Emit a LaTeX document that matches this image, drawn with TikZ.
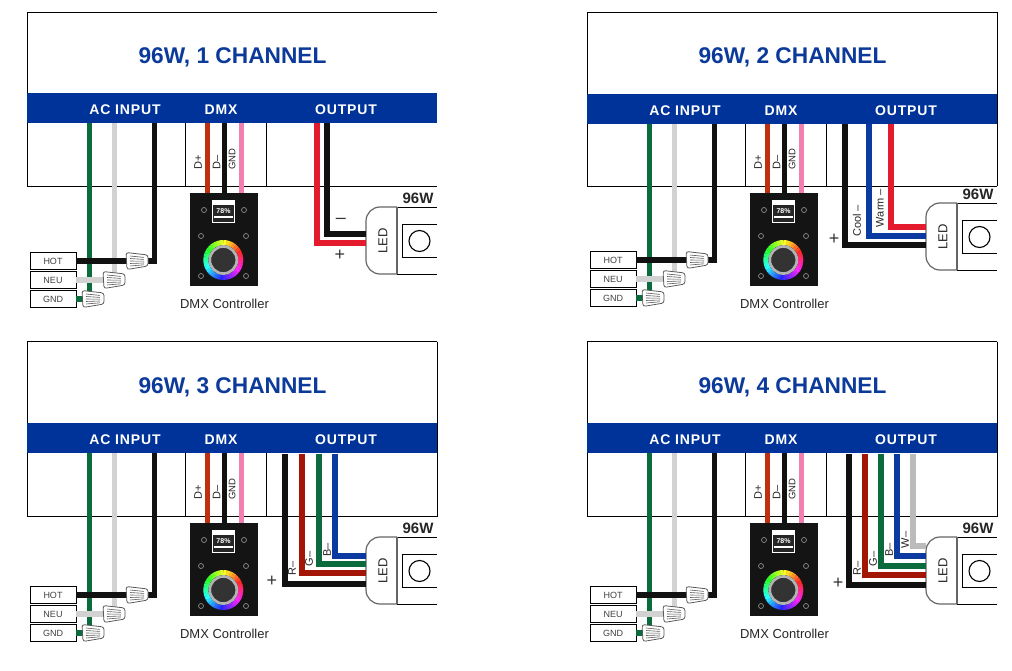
\documentclass[tikz,border=0pt]{standalone}
\usepackage{fontspec}
\setmainfont{Liberation Sans}
\newfontfamily\bandfont{Liberation Sans}[LetterSpace=6.0]
\definecolor{bandblue}{HTML}{003399}
\definecolor{titleblue}{HTML}{0B3A9B}
\definecolor{wireblk}{HTML}{111111}
\definecolor{wirered}{HTML}{E31B2D}
\definecolor{wiredkred}{HTML}{A31505}
\definecolor{wiregrn}{HTML}{0B6B3C}
\definecolor{wireblu}{HTML}{0B3AA0}
\definecolor{wiregry}{HTML}{BBBBBB}
\definecolor{wirelgt}{HTML}{D2D2D2}
\definecolor{wirednr}{HTML}{C0300F}
\definecolor{wirepnk}{HTML}{F080B0}
\tikzset{
    x=1pt, y=-1pt,
    wire/.style={line width=5.2pt},
    boxline/.style={black, line width=1pt},
    band/.style={fill=bandblue, draw=none, minimum width=410pt, minimum height=30pt, inner sep=0pt},
    bandtext/.style={text=white, font=\fontsize{14}{14}\selectfont\bandfont\bfseries},
    title/.style={text=titleblue, font=\fontsize{22.7}{24}\selectfont\bfseries},
    tagbox/.style={draw=black, line width=0.9pt, fill=white, minimum width=46pt, minimum height=16.5pt, inner sep=0pt, text=black!75, font=\fontsize{9}{9}\selectfont},
    wirelabel/.style={rotate=90, inner sep=0pt, text=black!85, font=\fontsize{11}{11}\selectfont},
    signlabel/.style={inner sep=0pt, text=black!80, font=\fontsize{18}{18}\selectfont},
    ctrlbox/.style={fill=black!92, draw=none, minimum width=68pt, minimum height=93pt, inner sep=0pt},
    ledline/.style={draw=black!60, line width=1.2pt, fill=white},
    wirenut/.pic={
        \draw[draw=black!65, line width=0.8pt, fill=white, rounded corners=2.5pt]
            (-11,-8.5) -- (11,-6) -- (11,5) -- (-10,8.5) -- cycle;
        \foreach \yy/\yz in {-5/-3.6,-2.5/-1.6,0/0.2,2.5/2,5/3.8}
            \draw[black!65, line width=0.6pt] (-7,\yy) -- (7,\yz);
    },
}
\newcommand{\panel}[7]{
    \begin{scope}[shift={(#2,#3)}]
        \coordinate (#1nw) at (27.5,{12.5-#3/330});
        \coordinate (#1ne) at (437,{12.5-#3/330});
        \coordinate (#1sw) at (27.5,186.5);
        \coordinate (#1se) at (437,186.5);
        \draw[boxline] (#1ne) -- (#1nw) -- (#1sw) -- (#1se);
        \node[title] (#1title) at (232.5,57) {96W, #4 CHANNEL};
        \draw[boxline] (185.5,123) -- (185.5,186) (266.5,123) -- (266.5,186);
        \node[tagbox] (#1hot) at (53,{261+#5}) {HOT};
        \node[tagbox] (#1neu) at (53,{280+#5}) {NEU};
        \node[tagbox] (#1gnd) at (53,{299+#5}) {GND};
        \coordinate (#1grntop) at (89.5,123);
        \coordinate (#1grnend) at (89.5,{295+#5});
        \coordinate (#1lgttop) at (114.5,123);
        \coordinate (#1lgtend) at (114.5,{280+#5});
        \coordinate (#1blktop) at (154.5,123);
        \draw[wire, wiregrn] (#1grntop) -- (#1grnend);
        \draw[wire, wiregrn] (#1gnd.east) -- (90,{299+#5});
        \draw[wire, wirelgt] (#1lgttop) |- (#1neu.east);
        \draw[wire, wireblk] (#1blktop) |- (#1hot.east);
        \pic at (137,{261+#5}) {wirenut};
        \pic at (114,{280+#5}) {wirenut};
        \pic at (93,{299+#5}) {wirenut};
        \node[ctrlbox] (#1ctrl) at (224,239.5) {};
        \foreach \col/\xx in {wirednr/207.5,wireblk/224.5,wirepnk/241.5} {
            \coordinate (#1\col) at (\xx,123);
            \draw[wire, draw=\col] (#1\col) -- (#1\col |- #1ctrl.north);
        }
        \node[wirelabel] (#1dp) at (198,162) {D+};
        \node[wirelabel] (#1dm) at (216.5,162) {D--};
        \node[wirelabel, font=\fontsize{9.5}{10}\selectfont] (#1dg) at (232,159) {GND};
        \fill[white] (212,200) rectangle (235,223);
        \fill[black!85] (213,205) rectangle (234,222);
        \fill[white] (214,216) rectangle (233,218);
        \node[inner sep=0pt, text=white, font=\fontsize{7}{7}\selectfont\bfseries] (#1pct) at (223.5,211) {78\%};
        \foreach \xx/\yy in {204/210,244/210,201/236,246/236,201/276,246/276}
            \draw[black!45, line width=0.7pt] (\xx,\yy) circle[radius=2.5];
        \begin{scope}[shift={(223.3,260)}]
            \foreach \aa in {0,10,...,350} {
                \pgfmathtruncatemacro\hh{mod(720-\aa-30,360)}
                \definecolor{ringcol}{Hsb}{\hh,0.85,1}
                \draw[line width=5pt, ringcol] (\aa:17.5) -- ({\aa+11}:17.5);
            }
            \fill[black!80] (0,0) circle[radius=12];
            \draw[black!30, line width=2.8pt] (0,0) circle[radius=13.5];
        \end{scope}
        \node[inner sep=0pt, text=black!85, font=\fontsize{13}{13}\selectfont] (#1ctrltext) at (224.5,304) {DMX Controller};
        \begin{scope}[yshift={-1pt*(#6)}]
            \coordinate (#1sqne) at (437,224);
            \coordinate (#1sqnw) at (402,224);
            \coordinate (#1sqsw) at (402,257);
            \coordinate (#1sqse) at (437,257);
            \draw[black, line width=0.9pt] (397,207) -- (437,207) (397,274) -- (437,274);
            \draw[black, line width=0.9pt] (#1sqne) -- (#1sqnw) -- (#1sqsw) -- (#1sqse);
            \draw[black, line width=1.1pt] (419.5,241) circle[radius=10.5];
            \draw[ledline, rounded corners=14pt] (397,207) -- (366,207) -- (366,274) -- (397,274);
            \draw[ledline, fill=none] (397,207) -- (397,274);
            \node[inner sep=0pt, rotate=90, text=black!85, font=\fontsize{13}{13}\selectfont] (#1led) at (383,241) {LED};
            \node[inner sep=0pt, text=black!85, font=\fontsize{15}{15}\selectfont\bfseries] (#1watt) at (418,198) {96W};
        \end{scope}
        \begin{scope}[yshift={-1pt*(#7)}]
            \node[band] (#1band) at (232,108) {};
            \node[bandtext] (#1ac) at (125,109.5) {AC INPUT};
            \node[bandtext] (#1dmx) at (221,109.5) {DMX};
            \node[bandtext] (#1out) at (346,109.5) {OUTPUT};
        \end{scope}
    \end{scope}
}
\newcommand{\outwires}[4]{
    \begin{scope}[shift={(#2,#3)}]
        \foreach \col/\xx/\yy in {#4} {
            \coordinate (#1o\col) at (\xx,123.5);
            \coordinate (#1e\col) at (366,\yy);
            \draw[wire, draw=\col] (#1o\col) |- (#1e\col);
        }
    \end{scope}
}
\begin{document}
\begin{tikzpicture}
    \useasboundingbox (0,0) rectangle (1012,671);
    \fill[white] (0,0) rectangle (1012,671);
    \panel{pa}{0}{0}{1}{0}{0}{0}
    \panel{pb}{560}{0}{2}{-1}{-4}{1}
    \panel{pc}{0}{330}{3}{4}{0}{0}
    \panel{pd}{560}{330}{4}{4}{0}{0}
    \outwires{pa}{0}{0}{wirered/317/243,wireblk/327/234}
    \outwires{pb}{560}{1}{wireblk/285/244,wireblu/309/235,wirered/331/226}
    \outwires{pc}{0}{330}{wireblk/285/254,wiredkred/302/243,wiregrn/319/234,wireblu/335/226}
    \outwires{pd}{560}{330}{wireblk/289/255,wiredkred/305/245,wiregrn/321/236,wireblu/337/226,wiregry/353/216}
    \draw[boxline] (pbne) -- (pbse);
    \draw[boxline] (pcne) -- (pcse);
    \draw[boxline] (pdne) -- (pdse);
    \node[signlabel] (paminus) at (341,221) {--};
    \node[signlabel] (paplus) at (340,255) {+};
    \node[wirelabel] (pbcool) at (857,221) {Cool --};
    \node[wirelabel] (pbwarm) at (880,208) {Warm --};
    \node[signlabel] (pbplus) at (834,239) {+};
    \node[wirelabel] (pcr) at (292,568) {R--};
    \node[wirelabel] (pcg) at (309,559) {G--};
    \node[wirelabel] (pcb) at (327,550) {B--};
    \node[signlabel] (pcplus) at (272,581) {+};
    \node[wirelabel] (pdr) at (857,568) {R--};
    \node[wirelabel] (pdg) at (873,559) {G--};
    \node[wirelabel] (pdb) at (889,550) {B--};
    \node[wirelabel] (pdw) at (905,540) {W--};
    \node[signlabel] (pdplus) at (838,583) {+};
\end{tikzpicture}
\end{document}
